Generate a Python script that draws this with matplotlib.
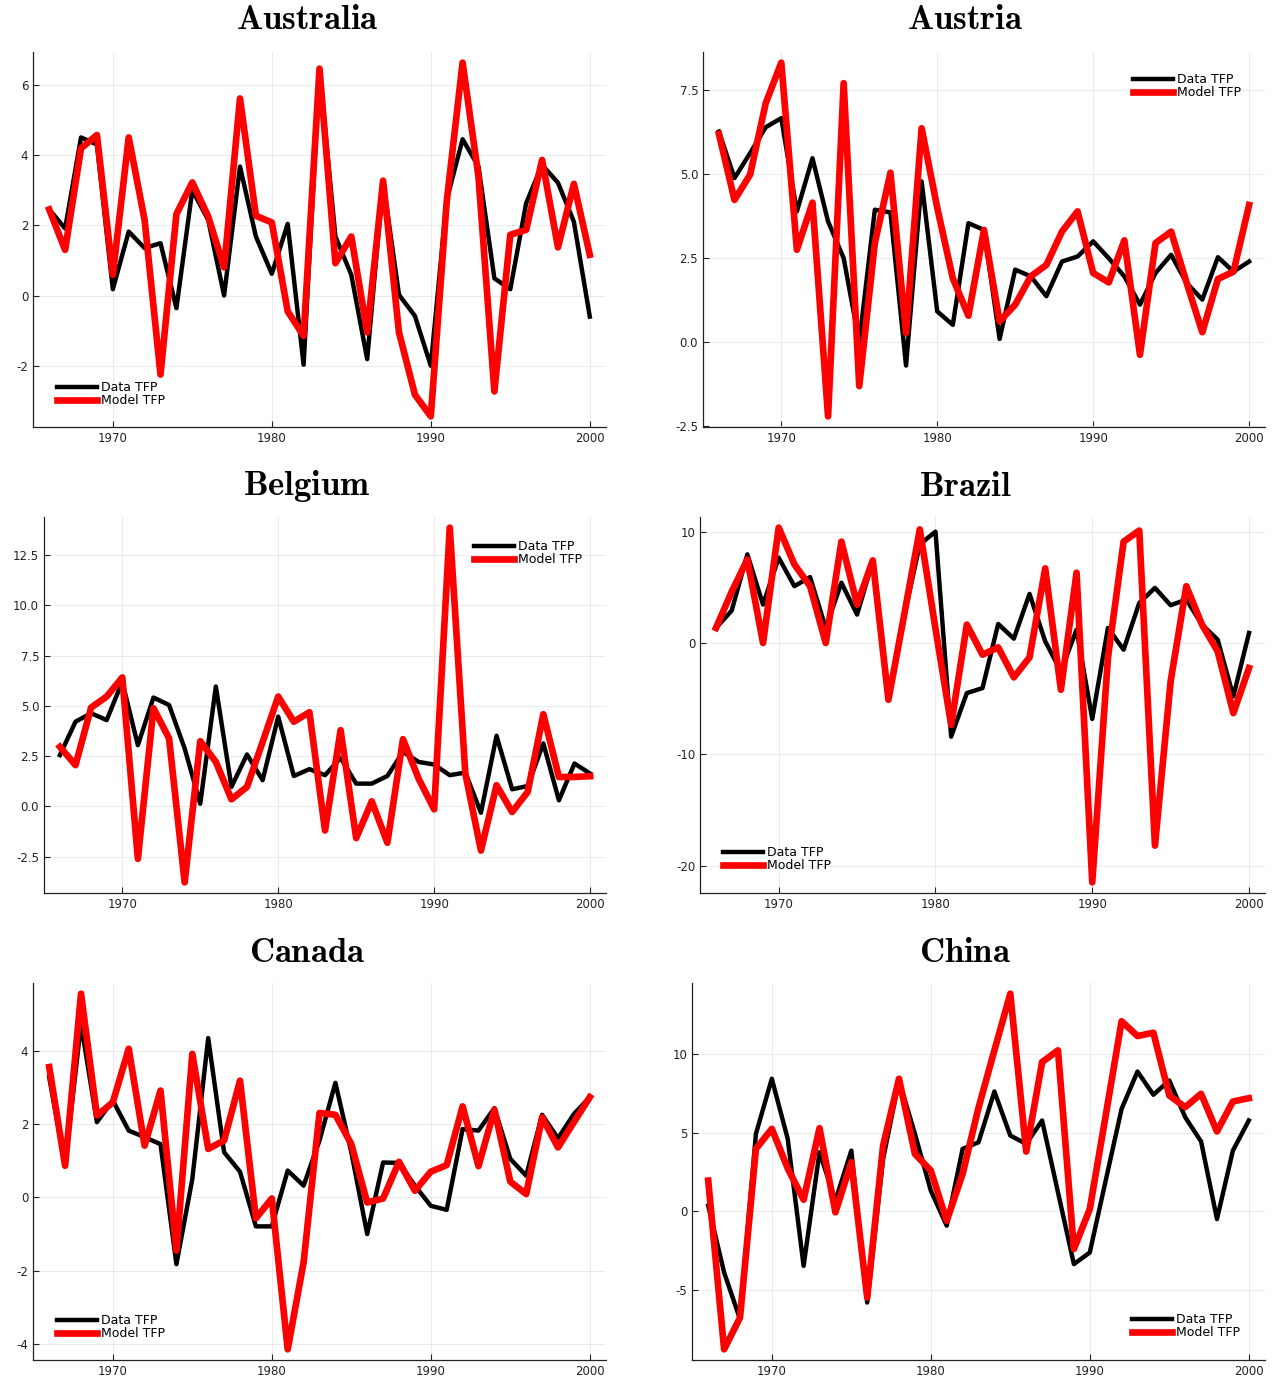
import matplotlib
matplotlib.use("Agg")
import matplotlib.pyplot as plt
from matplotlib.ticker import MultipleLocator, FormatStrFormatter

plt.rcParams['mathtext.fontset'] = 'cm'

years = list(range(1966, 2001))
countries = ["Australia", "Austria", "Belgium", "Brazil", "Canada", "China"]

# TFP growth, data vs model (%)
australia_data = [2.45, 1.91, 4.5, 4.3, 0.18, 1.82, 1.35, 1.49, -0.36, 3.0, 2.15, 0.0, 3.67, 1.68, 0.62, 2.04, -1.97,
                  6.4, 1.68, 0.59, -1.81, 3.24, 0.02, -0.58, -2.0, 2.72, 4.45, 3.67, 0.49, 0.18, 2.63, 3.72, 3.21, 2.1, -0.6]
australia_model = [2.45, 1.3, 4.19, 4.57, 0.59, 4.5, 2.15, -2.25, 2.32, 3.22, 2.25, 0.8, 5.61, 2.27, 2.08, -0.45, -1.15,
                   6.46, 0.92, 1.68, -1.05, 3.27, -1.05, -2.82, -3.44, 2.67, 6.63, 3.38, -2.73, 1.73, 1.87, 3.86, 1.37, 3.18, 1.16]

austria_data = [6.26, 4.88, 5.62, 6.39, 6.66, 3.89, 5.47, 3.59, 2.5, 0.0, 3.94, 3.86, -0.69, 4.78, 0.92, 0.52, 3.54, 3.34,
                0.1, 2.16, 1.96, 1.37, 2.4, 2.55, 3.0, 2.5, 1.96, 1.12, 2.06, 2.6, 1.76, 1.27, 2.53, 2.1, 2.4]
austria_model = [6.19, 4.23, 4.98, 7.1, 8.31, 2.75, 4.15, -2.2, 7.7, -1.3, 2.95, 5.04, 0.28, 6.36, 4.0, 1.9, 0.79, 3.34,
                 0.62, 1.12, 1.96, 2.3, 3.29, 3.89, 2.06, 1.78, 3.03, -0.37, 2.95, 3.29, 1.76, 0.3, 1.88, 2.1, 4.08]

belgium_data = [2.55, 4.21, 4.63, 4.29, 6.2, 3.04, 5.41, 5.04, 2.88, 0.13, 5.96, 0.97, 2.58, 1.3, 4.46, 1.51, 1.85, 1.55,
                2.41, 1.13, 1.13, 1.51, 2.71, 2.21, 2.08, 1.55, 1.68, -0.32, 3.51, 0.85, 1.01, 3.13, 0.3, 2.13, 1.63]
belgium_model = [2.96, 2.05, 4.91, 5.46, 6.41, -2.61, 4.88, 3.38, -3.78, 3.24, 2.21, 0.35, 0.97, 3.2, 5.46, 4.21, 4.68, -1.2,
                 3.79, -1.58, 0.25, -1.81, 3.34, 1.38, -0.15, 13.86, 1.63, -2.2, 1.05, -0.28, 0.72, 4.58, 1.46, 1.46, 1.5]

brazil_data = [1.35, 2.91, 7.96, 3.45, 7.66, 5.1, 5.92, 1.35, 5.41, 2.55, 7.36, -5.1, 2.4, 8.86, 10.0, -8.41, -4.5, -4.05,
               1.71, 0.39, 4.41, 0.15, -2.55, 1.2, -6.82, 1.35, -0.6, 3.6, 4.95, 3.39, 3.9, 1.65, 0.3, -4.8, 0.9]
brazil_model = [1.35, 4.6, 7.5, 0.0, 10.36, 7.06, 5.1, 0.0, 9.1, 3.45, 7.42, -5.1, 2.5, 10.2, 1.3, -7.36, 1.65, -1.05,
                -0.39, -3.09, -1.29, 6.7, -4.2, 6.31, -21.5, -1.35, 9.1, 10.1, -18.2, -3.45, 5.1, 1.65, -0.75, -6.3, -2.25]

canada_data = [3.27, 0.9, 4.73, 2.05, 2.64, 1.82, 1.64, 1.45, -1.82, 0.5, 4.34, 1.23, 0.7, -0.79, -0.79, 0.73, 0.32, 1.55,
               3.12, 1.23, -1.0, 0.95, 0.94, 0.32, -0.23, -0.34, 1.86, 1.82, 2.43, 1.05, 0.59, 2.25, 1.61, 2.27, 2.73]
canada_model = [3.55, 0.86, 5.55, 2.23, 2.59, 4.05, 1.41, 2.91, -1.45, 3.91, 1.32, 1.55, 3.18, -0.57, -0.03, -4.14, -1.77, 2.3,
                2.25, 1.45, -0.14, -0.03, 0.97, 0.18, 0.7, 0.88, 2.48, 0.85, 2.39, 0.43, 0.09, 2.18, 1.36, 2.05, 2.73]

china_data = [0.36, -3.89, -6.87, 4.94, 8.45, 4.62, -3.47, 3.77, 0.68, 3.87, -5.81, 3.34, 8.34, 4.94, 1.32, -0.91, 3.98, 4.4,
              7.64, 4.83, 4.3, 5.79, 1.21, -3.36, -2.62, 1.96, 6.53, 8.91, 7.43, 8.34, 6.0, 4.45, -0.49, 3.87, 5.79]
china_model = [1.96, -8.79, -6.77, 3.98, 5.26, 2.74, 0.74, 5.3, -0.06, 3.13, -5.49, 4.19, 8.45, 3.66, 2.6, -0.6, 2.38, 6.6,
               10.26, 13.87, 3.81, 9.51, 10.26, -2.4, 0.15, 6.1, 12.11, 11.17, 11.38, 7.38, 6.64, 7.49, 5.09, 7.0, 7.21]

data = [australia_data, austria_data, belgium_data, brazil_data, canada_data, china_data]
model = [australia_model, austria_model, belgium_model, brazil_model, canada_model, china_model]

W, H = 1276, 1382
# axes boxes in pixels: left, top, right, bottom
boxes = [(33, 52, 606, 427), (703, 52, 1265, 427),
         (44, 517, 606, 893), (700, 517, 1265, 893),
         (33, 983, 606, 1360), (692, 983, 1265, 1360)]
title_pos = [(307, 19), (965, 19), (307, 486), (965, 486), (307, 952), (965, 952)]
ystep = [2, 2.5, 2.5, 10, 2, 5]
yfmt = ['%d', '%.1f', '%.1f', '%d', '%d', '%d']
leg = [('lower left', (0.042, 0.053)), ('upper right', (0.957, 0.944)),
       ('upper right', (0.957, 0.939)), ('lower left', (0.041, 0.056)),
       ('lower left', (0.042, 0.053)), ('lower right', (0.956, 0.056))]

fig = plt.figure(figsize=(W / 100, H / 100), dpi=100)

for i in range(6):
    l, t, r, b = boxes[i]
    ax = fig.add_axes([l / W, 1 - b / H, (r - l) / W, (b - t) / H])
    ax.plot(years, data[i], color="black", lw=3.2, label="Data TFP")
    ax.plot(years, model[i], color="#ff0000", lw=4.8, label="Model TFP")
    ax.margins(x=0.03, y=0.03)
    ax.xaxis.set_major_locator(MultipleLocator(10))
    ax.yaxis.set_major_locator(MultipleLocator(ystep[i]))
    ax.yaxis.set_major_formatter(FormatStrFormatter(yfmt[i]))
    ax.grid(True, color="#e6e6e6", lw=0.6)
    ax.set_axisbelow(True)
    for s in ["top", "right"]:
        ax.spines[s].set_visible(False)
    for s in ["left", "bottom"]:
        ax.spines[s].set_color("#222222")
        ax.spines[s].set_linewidth(0.9)
    ax.tick_params(direction="in", length=4, width=0.8, labelsize=8.5, colors="#222222")
    loc, anchor = leg[i]
    ax.legend(loc=loc, bbox_to_anchor=anchor, frameon=False, fontsize=9,
              handlelength=3.2, handletextpad=0.3, labelspacing=0.0, borderpad=0, borderaxespad=0)
    tx, ty = title_pos[i]
    fig.text(tx / W, 1 - ty / H, r"$\mathbf{" + countries[i] + "}$", fontsize=25,
             ha="center", va="center")

fig.savefig("out.png", dpi=100)
